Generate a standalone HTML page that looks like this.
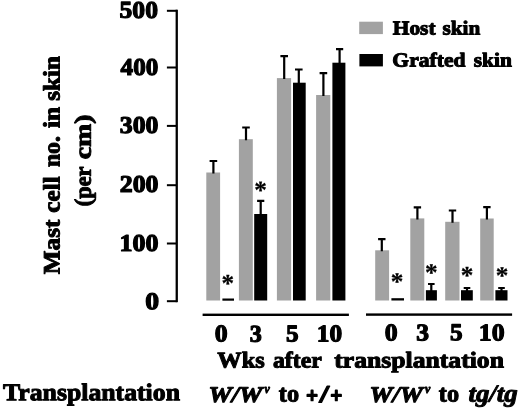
<!DOCTYPE html>
<html><head><meta charset="utf-8"><title>Mast cell chart</title>
<style>
html,body{margin:0;padding:0;background:#fff;}
svg{display:block;}
text{text-rendering:geometricPrecision;font-family:"Liberation Serif",serif;}
.g{fill:#a2a2a2;}
.k{fill:#000;}
.e{stroke:#000;stroke-width:2.2;fill:none;}
rect{stroke:none;}
</style></head><body>
<svg width="520" height="409" viewBox="0 0 520 409">
<rect width="520" height="409" fill="#fff"/>
<g font-weight="bold" fill="#000" stroke="#000" stroke-width="1.0" stroke-linejoin="round">
<rect x="175.6" y="9.7" width="2.3" height="292.5"/>
<rect x="166.9" y="9.8" width="10" height="2"/><rect x="166.9" y="66.5" width="10" height="2"/><rect x="166.9" y="124.9" width="10" height="2"/><rect x="166.9" y="184.2" width="10" height="2"/><rect x="166.9" y="242.5" width="10" height="2"/><rect x="166.9" y="300.2" width="10" height="2"/>
<rect class="g" x="359.2" y="21.7" width="23.7" height="12.4"/>
<rect class="k" x="359.4" y="54.0" width="23.5" height="12.4"/>
<rect class="g" x="206.3" y="172.5" width="13.8" height="128.0"/>
<rect class="k" x="222.4" y="298.5" width="11.6" height="2.2"/>
<rect class="g" x="238.9" y="139.2" width="13.9" height="161.3"/>
<rect class="k" x="254.2" y="214.0" width="13.0" height="86.5"/>
<rect class="g" x="276.9" y="78.1" width="14.2" height="222.4"/>
<rect class="k" x="293.0" y="82.7" width="12.7" height="217.8"/>
<rect class="g" x="316.1" y="95.0" width="14.2" height="205.5"/>
<rect class="k" x="332.4" y="62.7" width="13.0" height="237.8"/>
<rect class="g" x="375.2" y="250.3" width="13.9" height="50.2"/>
<rect class="k" x="391.4" y="298.2" width="12.6" height="2.3"/>
<rect class="g" x="410.3" y="218.4" width="14.0" height="82.1"/>
<rect class="k" x="425.9" y="290.2" width="11.0" height="10.3"/>
<rect class="g" x="445.2" y="221.8" width="14.3" height="78.7"/>
<rect class="k" x="461.0" y="290.2" width="11.8" height="10.3"/>
<rect class="g" x="480.2" y="218.5" width="13.5" height="82.0"/>
<rect class="k" x="495.4" y="290.2" width="12.1" height="10.3"/>
<g class="e">
<path d="M213.4 173.5V161.0M209.6 161.0H217.20000000000002"/>
<path d="M246.0 140.2V127.5M242.2 127.5H249.8"/>
<path d="M260.7 215.0V200.8M257.09999999999997 200.8H264.3"/>
<path d="M284.2 79.1V56.1M280.4 56.1H288.0"/>
<path d="M298.8 83.7V69.5M295.0 69.5H302.6"/>
<path d="M323.4 96V73.1M319.59999999999997 73.1H327.2"/>
<path d="M339.6 63.7V49.2M336.0 49.2H343.20000000000005"/>
<path d="M381.8 251.3V239.2M378.1 239.2H385.5"/>
<path d="M417.4 219.4V207.3M413.7 207.3H421.09999999999997"/>
<path d="M431.3 291.2V284.0M428.0 284.0H434.6"/>
<path d="M452.5 222.8V210.5M448.8 210.5H456.2"/>
<path d="M467.0 291.2V288.0M463.7 288.0H470.3"/>
<path d="M486.9 219.5V207.1M483.2 207.1H490.59999999999997"/>
<path d="M501.5 291.2V288.0M498.2 288.0H504.8"/>
</g>
<rect x="202.6" y="313.6" width="146.3" height="2.4"/>
<rect x="366.0" y="313.4" width="146.1" height="2.4"/>
<text x="227.9" y="291.48" transform="rotate(0.03 227.9 279.5)" font-size="25.2" text-anchor="middle" stroke-width="0.3">*</text><text x="260.5" y="198.28" transform="rotate(0.03 260.5 186.3)" font-size="25.2" text-anchor="middle" stroke-width="0.3">*</text><text x="397.1" y="289.88" transform="rotate(0.03 397.1 277.9)" font-size="25.2" text-anchor="middle" stroke-width="0.3">*</text><text x="431.2" y="280.78" transform="rotate(0.03 431.2 268.8)" font-size="25.2" text-anchor="middle" stroke-width="0.3">*</text><text x="467.0" y="283.48" transform="rotate(0.03 467.0 271.5)" font-size="25.2" text-anchor="middle" stroke-width="0.3">*</text><text x="502.1" y="283.68" transform="rotate(0.03 502.1 271.7)" font-size="25.2" text-anchor="middle" stroke-width="0.3">*</text>
<text id="w0" x="119.60" y="17.86" transform="rotate(0.03 119.60 17.86)" font-size="24.2" stroke-width="1.2" textLength="38.34" lengthAdjust="spacingAndGlyphs">500</text>
<text id="w1" x="120.63" y="74.9" transform="rotate(0.03 120.63 74.9)" font-size="24.2" stroke-width="1.2" textLength="37.60" lengthAdjust="spacingAndGlyphs">400</text>
<text id="w2" x="119.84" y="132.89" transform="rotate(0.03 119.84 132.89)" font-size="24.2" stroke-width="1.2" textLength="38.57" lengthAdjust="spacingAndGlyphs">300</text>
<text id="w3" x="119.75" y="192.09" transform="rotate(0.03 119.75 192.09)" font-size="24.2" stroke-width="1.2" textLength="38.77" lengthAdjust="spacingAndGlyphs">200</text>
<text id="w4" x="119.56" y="250.96" transform="rotate(0.03 119.56 250.96)" font-size="24.2" stroke-width="1.2" textLength="38.94" lengthAdjust="spacingAndGlyphs">100</text>
<text id="w5" x="145.39" y="309.35" transform="rotate(0.03 145.39 309.35)" font-size="24.2" stroke-width="1.2" textLength="13.83" lengthAdjust="spacingAndGlyphs">0</text>
<text id="w6" x="214.78" y="341.58" transform="rotate(0.03 214.78 341.58)" font-size="24.2" stroke-width="1.2" textLength="12.85" lengthAdjust="spacingAndGlyphs">0</text>
<text id="w7" x="249.73" y="341.66" transform="rotate(0.03 249.73 341.66)" font-size="24.2" stroke-width="1.2" textLength="12.03" lengthAdjust="spacingAndGlyphs">3</text>
<text id="w8" x="286.09" y="341.45" transform="rotate(0.03 286.09 341.45)" font-size="24.2" stroke-width="1.2" textLength="12.58" lengthAdjust="spacingAndGlyphs">5</text>
<text id="w9" x="316.89" y="341.61" transform="rotate(0.03 316.89 341.61)" font-size="24.2" stroke-width="1.2" textLength="25.29" lengthAdjust="spacingAndGlyphs">10</text>
<text id="w10" x="384.80" y="340.59" transform="rotate(0.03 384.80 340.59)" font-size="24.2" stroke-width="1.2" textLength="12.85" lengthAdjust="spacingAndGlyphs">0</text>
<text id="w11" x="416.33" y="340.47" transform="rotate(0.03 416.33 340.47)" font-size="24.2" stroke-width="1.2" textLength="12.78" lengthAdjust="spacingAndGlyphs">3</text>
<text id="w12" x="450.11" y="340.29" transform="rotate(0.03 450.11 340.29)" font-size="24.2" stroke-width="1.2" textLength="12.57" lengthAdjust="spacingAndGlyphs">5</text>
<text id="w13" x="478.82" y="340.6" transform="rotate(0.03 478.82 340.6)" font-size="24.2" stroke-width="1.2" textLength="25.74" lengthAdjust="spacingAndGlyphs">10</text>
<text id="w14" x="217.37" y="367.44" transform="rotate(0.03 217.37 367.44)" font-size="22.6" textLength="47.34" lengthAdjust="spacingAndGlyphs">Wks</text>
<text id="w15" x="272.97" y="367.44" transform="rotate(0.03 272.97 367.44)" font-size="22.6" textLength="48.81" lengthAdjust="spacingAndGlyphs">after</text>
<text id="w16" x="334.34" y="367.44" transform="rotate(0.03 334.34 367.44)" font-size="22.6" textLength="169.60" lengthAdjust="spacingAndGlyphs">transplantation</text>
<text id="w17" x="3.00" y="400.2" transform="rotate(0.03 3.00 400.2)" font-size="24.2" textLength="176.97" lengthAdjust="spacingAndGlyphs">Transplantation</text>
<text id="w18" x="208.48" y="402.09" transform="rotate(0.03 208.48 402.09)" font-size="22.4" font-style="italic" stroke-width="1.0" textLength="53.96" lengthAdjust="spacingAndGlyphs">W/W</text>
<text id="w19" x="264.54" y="393.3" transform="rotate(0.03 264.54 393.3)" font-size="13" font-style="italic" stroke-width="0.9" textLength="5.27" lengthAdjust="spacingAndGlyphs">v</text>
<text id="w20" x="278.79" y="401.59" transform="rotate(0.03 278.79 401.59)" font-size="24.5" textLength="20.27" lengthAdjust="spacingAndGlyphs">to</text>
<text id="w21" x="306.34" y="402.5" transform="rotate(0.03 306.34 402.5)" font-size="21.4" stroke-width="1.8" textLength="11.66" lengthAdjust="spacingAndGlyphs">+</text>
<text id="w22" x="319.22" y="402.39" transform="rotate(0.03 319.22 402.39)" font-size="24.5" stroke-width="1.0" textLength="9.97" lengthAdjust="spacingAndGlyphs">/</text>
<text id="w23" x="330.62" y="402.5" transform="rotate(0.03 330.62 402.5)" font-size="21.4" stroke-width="1.8" textLength="11.65" lengthAdjust="spacingAndGlyphs">+</text>
<text id="w24" x="369.53" y="401.97" transform="rotate(0.03 369.53 401.97)" font-size="22.4" font-style="italic" stroke-width="1.0" textLength="53.33" lengthAdjust="spacingAndGlyphs">W/W</text>
<text id="w25" x="424.98" y="393.3" transform="rotate(0.03 424.98 393.3)" font-size="13" font-style="italic" stroke-width="0.9" textLength="5.26" lengthAdjust="spacingAndGlyphs">v</text>
<text id="w26" x="438.79" y="401.59" transform="rotate(0.03 438.79 401.59)" font-size="24.5" textLength="20.27" lengthAdjust="spacingAndGlyphs">to</text>
<text id="w27" x="468.42" y="401.59" transform="rotate(0.03 468.42 401.59)" font-size="24.5" font-style="italic" stroke-width="0.9" textLength="49.41" lengthAdjust="spacingAndGlyphs">tg/tg</text>
<text id="w28" x="392.77" y="34.47" transform="rotate(0.03 392.77 34.47)" font-size="19.9" textLength="42.77" lengthAdjust="spacingAndGlyphs">Host</text>
<text id="w29" x="442.47" y="34.47" transform="rotate(0.03 442.47 34.47)" font-size="19.9" textLength="37.74" lengthAdjust="spacingAndGlyphs">skin</text>
<text id="w30" x="392.38" y="66.47" transform="rotate(0.03 392.38 66.47)" font-size="19.9" textLength="73.09" lengthAdjust="spacingAndGlyphs">Grafted</text>
<text id="w31" x="473.70" y="66.47" transform="rotate(0.03 473.70 66.47)" font-size="19.9" textLength="38.14" lengthAdjust="spacingAndGlyphs">skin</text>
<text id="w32" transform="translate(59.4,274.25) rotate(-90.03)" font-size="23.5" textLength="54.70" lengthAdjust="spacingAndGlyphs">Mast</text>
<text id="w33" transform="translate(59.4,212.72) rotate(-90.03)" font-size="23.5" textLength="36.39" lengthAdjust="spacingAndGlyphs">cell</text>
<text id="w34" transform="translate(59.4,167.08) rotate(-90.03)" font-size="23.5" textLength="30.91" lengthAdjust="spacingAndGlyphs">no.</text>
<text id="w35" transform="translate(59.4,127.92) rotate(-90.03)" font-size="23.5" textLength="21.14" lengthAdjust="spacingAndGlyphs">in</text>
<text id="w36" transform="translate(59.4,100.78) rotate(-90.03)" font-size="23.5" textLength="44.63" lengthAdjust="spacingAndGlyphs">skin</text>
<text id="w37" transform="translate(90.8,206.22) rotate(-90.03)" font-size="23.5" textLength="39.78" lengthAdjust="spacingAndGlyphs">(per</text>
<text id="w38" transform="translate(90.8,159.24) rotate(-90.03)" font-size="23.5" textLength="44.77" lengthAdjust="spacingAndGlyphs">cm)</text>
</g>
</svg>
</body></html>
